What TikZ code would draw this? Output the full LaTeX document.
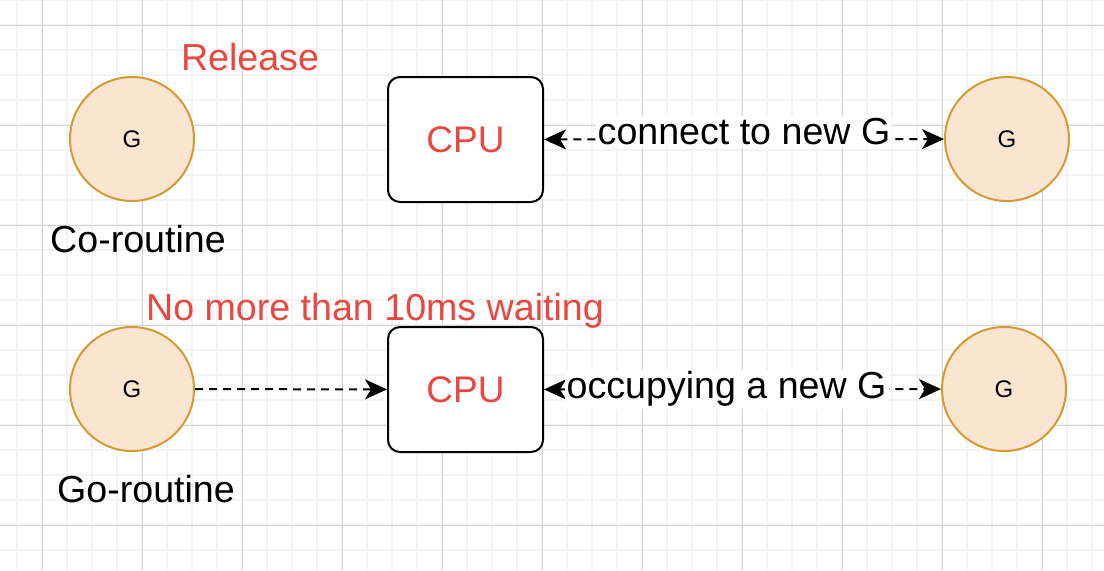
\documentclass[tikz,border=0pt]{standalone}
\usepackage{fontspec}
\setmainfont{Liberation Sans}
\usetikzlibrary{arrows.meta}
\definecolor{gfill}{HTML}{FAE6D0}
\definecolor{gline}{HTML}{D39B32}
\definecolor{cpured}{HTML}{E9473F}
\definecolor{minorgrid}{HTML}{F3F3F3}
\definecolor{majorgrid}{HTML}{D4D4D4}

\begin{document}
\begin{tikzpicture}[x=0.5pt,y=-0.5pt,
  >={Stealth[length=11pt,width=10pt,inset=3pt]},
  gnode/.style={circle,draw=gline,fill=gfill,line width=1pt,minimum size=62pt,inner sep=0pt,font=\fontsize{12}{14}\selectfont},
  cpubox/.style={draw,rounded corners=6pt,line width=1pt,fill=white,minimum width=77.5pt,minimum height=62.5pt,text=cpured,font=\fontsize{18.5}{22}\selectfont},
  conn/.style={dash pattern=on 4pt off 3pt,line width=1pt},
  lbl/.style={font=\fontsize{18.8}{22}\selectfont,inner sep=1pt}]

%% fond
\fill[white] (0,0) rectangle (1104,570);
\useasboundingbox (0,0) rectangle (1104,570);
\foreach \gx in {17,42,...,1092} \draw[minorgrid,line width=1pt] (\gx,0) -- (\gx,570);
\foreach \gy in {0,25,...,570} \draw[minorgrid,line width=1pt] (0,\gy) -- (1104,\gy);
\foreach \gx in {42,142,...,1042} \draw[majorgrid,line width=0.5pt] (\gx,0) -- (\gx,570);
\foreach \gy in {25,125,...,525} \draw[majorgrid,line width=0.5pt] (0,\gy) -- (1104,\gy);

%% noeuds
\node[gnode] (g1) at (132,139) {G};
\node[cpubox] (cpu1) at (465.5,139.5) {CPU};
\node[gnode] (g2) at (1007,139) {G};
\node[gnode] (g3) at (132,389) {G};
\node[cpubox] (cpu2) at (465.5,389.5) {CPU};
\node[gnode] (g4) at (1004,389) {G};

%% textes
\node[lbl,text=cpured,anchor=base] (release) at (250,70) {Release};
\node[lbl,anchor=base] (coroutine) at (138,252) {Co-routine};
\node[lbl,text=cpured,anchor=base] (waiting) at (375,320) {No more than 10ms waiting};
\node[lbl,anchor=base] (goroutine) at (146,502) {Go-routine};

%% fleches
\draw[conn,<->] (cpu1) -- node[lbl,fill=white,yshift=4pt]{connect to new G} (g2);
\draw[conn,->] (g3) -- (cpu2);
\draw[conn,<->] (cpu2) -- node[lbl,fill=white,pos=0.46]{occupying a new G} (g4);

\end{tikzpicture}
\end{document}
